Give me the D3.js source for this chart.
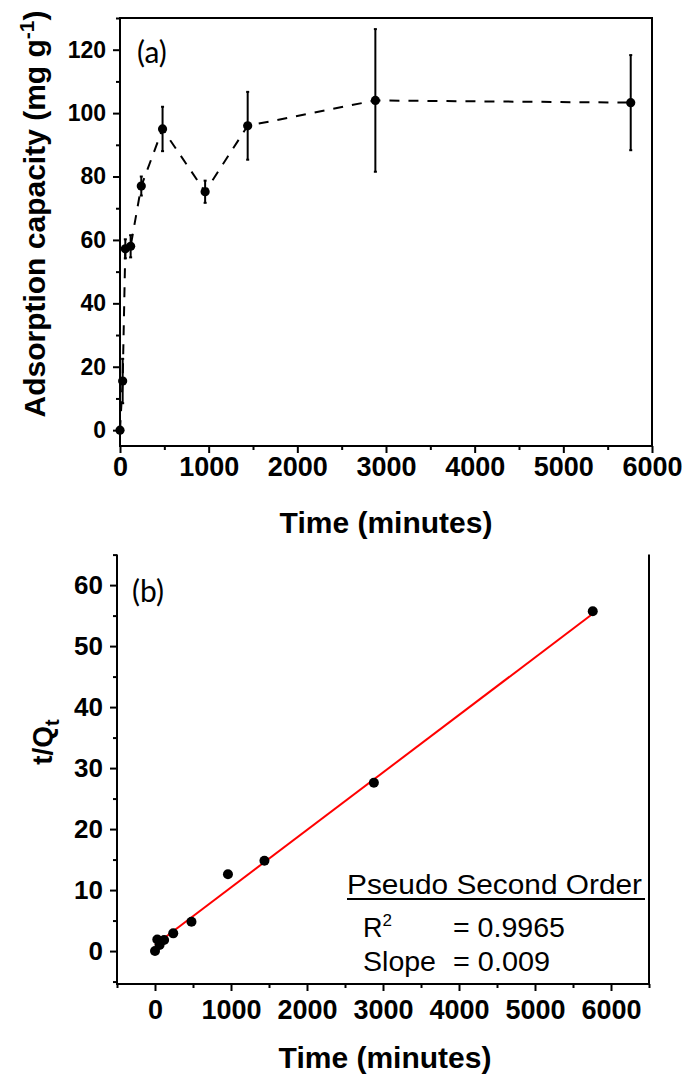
<!DOCTYPE html>
<html>
<head>
<meta charset="utf-8">
<script src="https://cdn.jsdelivr.net/npm/d3@7"></script>
<style>
  html, body { margin: 0; padding: 0; background: #fff; }
  svg { display: block; }
</style>
</head>
<body>
<svg id="chart" width="685" height="1075"></svg>
<script>
// ---------- data ----------
const timeMin      = [0, 30, 60, 120, 240, 480, 960, 1440, 2880, 5760];
const capacity     = [0, 15.5, 57.2, 58, 77, 95, 75.2, 96, 104, 103.3];
const capacityErr  = [0.5, 7, 3, 3.5, 3, 7, 3.5, 10.7, 22.5, 15];
const tOverQ       = [0, 1.9, 1.0, 1.8, 2.9, 4.8, 12.6, 14.8, 27.6, 55.7];
const fitTime      = [0, 5760];
const fitValue     = [1.0, 55.3];

const xTicksA      = [0, 1000, 2000, 3000, 4000, 5000, 6000];
const xMinorA      = [500, 1500, 2500, 3500, 4500, 5500];
const yTicksA      = [0, 20, 40, 60, 80, 100, 120];
const yMinorA      = [10, 30, 50, 70, 90, 110, 130];

const xTicksB      = [0, 1000, 2000, 3000, 4000, 5000, 6000];
const xMinorB      = [-500, 500, 1500, 2500, 3500, 4500, 5500, 6500];
const yTicksB      = [0, 10, 20, 30, 40, 50, 60];
const yMinorB      = [-5, 5, 15, 25, 35, 45, 55, 65];

const legendTitle  = "Pseudo Second Order";
const legendR2     = "= 0.9965";
const legendSlope  = "= 0.009";

// ---------- drawing ----------
const svg = d3.select("#chart");
svg.append("rect").attr("width", 685).attr("height", 1075).attr("fill", "#fff");
const BOLD = "'Liberation Sans', Arial, Helvetica, sans-serif";

function styleAxis(g, fs) {
  g.select(".domain").remove();
  g.selectAll(".tick line").attr("stroke", "#000").attr("stroke-width", 2);
  g.selectAll(".tick text")
    .attr("fill", "#000")
    .style("font-family", BOLD)
    .style("font-weight", "bold")
    .style("font-size", fs + "px");
}

// ===== Panel (a) =====
const xA = d3.scaleLinear().domain([0, 6000]).range([120, 652]);
const yA = d3.scaleLinear().domain([-5, 130]).range([446, 18]);

const gA = svg.append("g");
gA.append("g").attr("transform", "translate(0,446)")
  .call(d3.axisBottom(xA).tickValues(xMinorA).tickSize(4).tickFormat(""))
  .call(g => styleAxis(g, 10));
gA.append("g").attr("transform", "translate(120,0)")
  .call(d3.axisLeft(yA).tickValues(yMinorA).tickSize(4).tickFormat(""))
  .call(g => styleAxis(g, 10));
gA.append("g").attr("transform", "translate(0,446)")
  .call(d3.axisBottom(xA).tickValues(xTicksA).tickSize(7).tickPadding(4).tickFormat(d3.format("d")))
  .call(g => styleAxis(g, 27));
gA.append("g").attr("transform", "translate(120,0)")
  .call(d3.axisLeft(yA).tickValues(yTicksA).tickSize(7).tickPadding(7).tickFormat(d3.format("d")))
  .call(g => styleAxis(g, 23));
gA.append("rect")
  .attr("x", xA(0)).attr("y", yA(130))
  .attr("width", xA(6000) - xA(0)).attr("height", yA(-5) - yA(130))
  .attr("fill", "none").attr("stroke", "#000").attr("stroke-width", 2);

const ptsA = timeMin.map((t, i) => [t, capacity[i], capacityErr[i]]);
gA.append("path")
  .datum(ptsA)
  .attr("d", d3.line().x(d => xA(d[0])).y(d => yA(d[1])))
  .attr("fill", "none").attr("stroke", "#000").attr("stroke-width", 2)
  .attr("stroke-dasharray", "10,9");
const eb = gA.append("g").attr("stroke", "#000").attr("stroke-width", 2);
eb.selectAll("line.v").data(ptsA).join("line").attr("class", "v")
  .attr("x1", d => xA(d[0])).attr("x2", d => xA(d[0]))
  .attr("y1", d => yA(d[1] - d[2])).attr("y2", d => yA(d[1] + d[2]));
eb.selectAll("line.t").data(ptsA).join("line").attr("class", "t")
  .attr("x1", d => xA(d[0]) - 1.5).attr("x2", d => xA(d[0]) + 1.5)
  .attr("y1", d => yA(d[1] + d[2])).attr("y2", d => yA(d[1] + d[2]));
eb.selectAll("line.b").data(ptsA).join("line").attr("class", "b")
  .attr("x1", d => xA(d[0]) - 1.5).attr("x2", d => xA(d[0]) + 1.5)
  .attr("y1", d => yA(d[1] - d[2])).attr("y2", d => yA(d[1] - d[2]));
gA.append("g").selectAll("circle").data(ptsA).join("circle")
  .attr("cx", d => xA(d[0])).attr("cy", d => yA(d[1])).attr("r", 4.6)
  .attr("fill", "#000");

gA.append("text").attr("x", 386).attr("y", 533).attr("text-anchor", "middle")
  .style("font-family", BOLD).style("font-weight", "bold").style("font-size", "30px")
  .text("Time (minutes)");
const yTitleA = gA.append("text")
  .attr("transform", "translate(45,214) rotate(-90)")
  .attr("text-anchor", "middle")
  .style("font-family", BOLD).style("font-weight", "bold").style("font-size", "30px");
yTitleA.append("tspan").text("Adsorption capacity (mg g");
yTitleA.append("tspan").attr("dy", -11).style("font-size", "21px").text("-1");
yTitleA.append("tspan").attr("dy", 11).text(")");
gA.append("text").attr("x", 137).attr("y", 63)
  .style("font-family", "Lato, 'Open Sans', sans-serif").style("font-size", "30px")
  .text("(a)");

// ===== Panel (b) =====
const xB = d3.scaleLinear().domain([-500, 6500]).range([117, 649]);
const yB = d3.scaleLinear().domain([-5.4, 65]).range([984, 554.6]);
const gB = svg.append("g");

gB.append("g").attr("transform", "translate(0,984)")
  .call(d3.axisBottom(xB).tickValues(xMinorB).tickSize(4).tickFormat(""))
  .call(g => styleAxis(g, 10));
gB.append("g").attr("transform", "translate(117,0)")
  .call(d3.axisLeft(yB).tickValues(yMinorB).tickSize(4).tickFormat(""))
  .call(g => styleAxis(g, 10));
gB.append("g").attr("transform", "translate(0,984)")
  .call(d3.axisBottom(xB).tickValues(xTicksB).tickSize(7).tickPadding(9).tickFormat(d3.format("d")))
  .call(g => styleAxis(g, 27));
gB.append("g").attr("transform", "translate(117,0)")
  .call(d3.axisLeft(yB).tickValues(yTicksB).tickSize(7).tickPadding(7).tickFormat(d3.format("d")))
  .call(g => styleAxis(g, 26));
gB.append("path")
  .attr("d", `M${xB(-500)},${yB(65)}V${yB(-5.4)}H${xB(6500)}V${yB(65)}`)
  .attr("fill", "none").attr("stroke", "#000").attr("stroke-width", 2);

gB.append("path")
  .datum(fitTime.map((t, i) => [t, fitValue[i]]))
  .attr("d", d3.line().x(d => xB(d[0])).y(d => yB(d[1])))
  .attr("fill", "none").attr("stroke", "#ff0000").attr("stroke-width", 2);
gB.append("g").selectAll("circle").data(timeMin.map((t, i) => [t, tOverQ[i]])).join("circle")
  .attr("cx", d => xB(d[0])).attr("cy", d => yB(d[1])).attr("r", 5)
  .attr("fill", "#000");

gB.append("text").attr("x", 385).attr("y", 1068).attr("text-anchor", "middle")
  .style("font-family", BOLD).style("font-weight", "bold").style("font-size", "30px")
  .text("Time (minutes)");
const yTitleB = gB.append("text")
  .attr("transform", "translate(52,742) rotate(-90)")
  .attr("text-anchor", "middle")
  .style("font-family", BOLD).style("font-weight", "bold").style("font-size", "28px");
yTitleB.append("tspan").text("t/Q");
yTitleB.append("tspan").attr("dy", 7).style("font-size", "20px").text("t");
gB.append("text").attr("x", 132).attr("y", 602)
  .style("font-family", "Lato, 'Open Sans', sans-serif").style("font-size", "30px")
  .text("(b)");

const REG = "'Liberation Sans', Arial, Helvetica, sans-serif";
const lg = gB.append("g").style("font-family", REG).style("font-size", "27px").attr("fill", "#000");
lg.append("text").attr("x", 347).attr("y", 894).attr("textLength", 295).attr("lengthAdjust", "spacingAndGlyphs")
  .text(legendTitle);
lg.append("line").attr("x1", 347).attr("x2", 645).attr("y1", 899).attr("y2", 899)
  .attr("stroke", "#000").attr("stroke-width", 1.8);
const r2 = lg.append("text").attr("x", 363).attr("y", 937);
r2.append("tspan").text("R");
r2.append("tspan").attr("dy", -11).style("font-size", "17px").text("2");
lg.append("text").attr("x", 453).attr("y", 937).attr("textLength", 112).attr("lengthAdjust", "spacingAndGlyphs")
  .text(legendR2);
lg.append("text").attr("x", 363).attr("y", 971).attr("textLength", 73).attr("lengthAdjust", "spacingAndGlyphs")
  .text("Slope");
lg.append("text").attr("x", 453).attr("y", 971).attr("textLength", 97).attr("lengthAdjust", "spacingAndGlyphs")
  .text(legendSlope);
</script>
</body>
</html>
